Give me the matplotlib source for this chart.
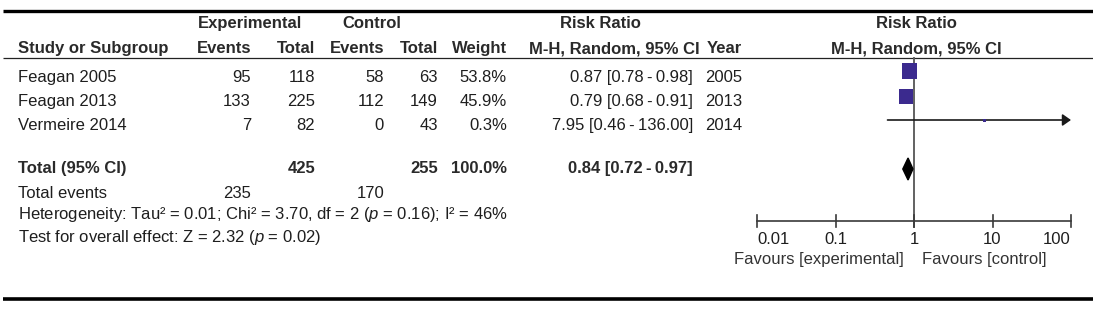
import numpy as np
import matplotlib
matplotlib.use("Agg")
import matplotlib.pyplot as plt

plt.rcParams['font.family'] = ['Liberation Sans', 'DejaVu Sans']
plt.rcParams['mathtext.fontset'] = 'custom'
plt.rcParams['mathtext.rm'] = 'Liberation Sans'
plt.rcParams['mathtext.it'] = 'Liberation Sans:italic'

# ---------------- data ----------------
studies = ["Feagan 2005", "Feagan 2013", "Vermeire 2014"]
exp_events = [95, 133, 7]
exp_total = [118, 225, 82]
ctrl_events = [58, 112, 0]
ctrl_total = [63, 149, 43]
weights = [53.8, 45.9, 0.3]
rr = [0.87, 0.79, 7.95]
ci_lo = [0.78, 0.68, 0.46]
ci_hi = [0.98, 0.91, 136.00]
years = [2005, 2013, 2014]

total_exp = 425
total_ctrl = 255
total_weight = 100.0
total_rr = 0.84
total_lo = 0.72
total_hi = 0.97
total_events_exp = 235
total_events_ctrl = 170
het_text = "Heterogeneity: Tau² = 0.01; Chi² = 3.70, df = 2 ($p$ = 0.16); I² = 46%"
overall_text = "Test for overall effect: Z = 2.32 ($p$ = 0.02)"
tick_vals = [0.01, 0.1, 1, 10, 100]
tick_labels = ["0.01", "0.1", "1", "10", "100"]

# ---------------- layout ----------------
W, H = 1093, 310
fig = plt.figure(figsize=(W / 100, H / 100), dpi=100)
ax = fig.add_axes([0, 0, 1, 1])
ax.set_xlim(0, W)
ax.set_ylim(H, 0)
ax.axis('off')

FS = 12
TC = '#1e1e1e'
HC = '#2a2a2a'

def t(x, y, s, ha='left', bold=False, color=None, **kw):
    ax.text(x, y, s, ha=ha, va='baseline', fontsize=FS,
            fontweight='bold' if bold else 'normal',
            color=color if color else (HC if bold else TC), **kw)

# rules
ax.plot([3, W], [11, 11], color='black', lw=2.4, solid_capstyle='butt')
ax.plot([3, W], [57.5, 57.5], color='#222222', lw=0.9, solid_capstyle='butt')
ax.plot([3, W], [298.5, 298.5], color='black', lw=2.6, solid_capstyle='butt')

# headers
t(250, 28, "Experimental", ha='center', bold=True)
t(372, 28, "Control", ha='center', bold=True)
t(600, 28, "Risk Ratio", ha='center', bold=True)
t(916, 28, "Risk Ratio", ha='center', bold=True)
t(18, 53, "Study or Subgroup", bold=True)
t(251, 53, "Events", ha='right', bold=True)
t(315, 53, "Total", ha='right', bold=True)
t(384, 53, "Events", ha='right', bold=True)
t(438, 53, "Total", ha='right', bold=True)
t(507, 53, "Weight", ha='right', bold=True)
t(700, 53, "M-H, Random, 95% CI", ha='right', bold=True)
t(742, 53, "Year", ha='right', bold=True)
t(916, 53, "M-H, Random, 95% CI", ha='center', bold=True)

row_base = [82, 106, 130]
for i, name in enumerate(studies):
    y = row_base[i]
    t(18, y, name)
    t(251, y, f"{exp_events[i]}", ha='right')
    t(315, y, f"{exp_total[i]}", ha='right')
    t(384, y, f"{ctrl_events[i]}", ha='right')
    t(438, y, f"{ctrl_total[i]}", ha='right')
    t(507, y, f"{weights[i]:.1f}%", ha='right')
    t(693, y, f"{rr[i]:.2f} [{ci_lo[i]:.2f}\u2009-\u2009{ci_hi[i]:.2f}]", ha='right')
    t(742, y, f"{years[i]}", ha='right')

yt = 173
t(18, yt, "Total (95% CI)", bold=True)
t(315, yt, f"{total_exp}", ha='right', bold=True)
t(438, yt, f"{total_ctrl}", ha='right', bold=True)
t(507, yt, f"{total_weight:.1f}%", ha='right', bold=True)
t(693, yt, f"{total_rr:.2f} [{total_lo:.2f}\u2009-\u2009{total_hi:.2f}]", ha='right', bold=True)
t(18, 198, "Total events")
t(251, 198, f"{total_events_exp}", ha='right')
t(384, 198, f"{total_events_ctrl}", ha='right')
t(18, 219, het_text)
t(18, 242, overall_text)

# favours labels (pixel positions)
t(819, 264, "Favours [experimental]", ha='center', color='#333333')
t(984, 264, "Favours [control]", ha='center', color='#333333')

# ---------------- forest ----------------
x0, x1 = 757, 1071
fx = fig.add_axes([x0 / W, 0, (x1 - x0) / W, 1])
fx.set_xscale('log')
fx.set_xlim(0.01, 100)
fx.set_ylim(H, 0)
fx.axis('off')

LC = '#3a3a3a'
SQ = '#3b2a8e'
axis_y = 220.5
# vertical line of no effect
fx.plot([1, 1], [58, 227], color='#555555', lw=1.3, clip_on=False)
# x axis
fx.plot([0.01, 100], [axis_y, axis_y], color=LC, lw=1.2, clip_on=False)
for k, (v, lab) in enumerate(zip(tick_vals, tick_labels)):
    fx.plot([v, v], [axis_y - 6, axis_y + 6], color=LC, lw=1.2, clip_on=False)
    ha = 'left' if k == 0 else ('right' if k == len(tick_vals) - 1 else 'center')
    fx.text(v, 244, lab, ha=ha, va='baseline', fontsize=FS, color=TC)

mark_y = [71, 96.5, 120]
for i in range(len(studies)):
    y = mark_y[i]
    hi = min(ci_hi[i], 100)
    if ci_hi[i] > 100:
        fx.annotate('', xy=(100, y), xytext=(ci_lo[i], y),
                    arrowprops=dict(arrowstyle='-|>,head_length=0.5,head_width=0.35',
                                    lw=1.2, color='#1a1a1a', shrinkA=0, shrinkB=0),
                    annotation_clip=False)
    else:
        fx.plot([ci_lo[i], hi], [y, y], color='#1a1a1a', lw=1.2, clip_on=False)
    side = max(15.5 * np.sqrt(weights[i] / 53.8), 3.0)
    fx.scatter([rr[i]], [y], marker='s', s=(side * 0.72) ** 2, color=SQ,
               edgecolors='none', zorder=5, clip_on=False)

yd = 169
fx.fill([total_lo, total_rr, total_hi, total_rr], [yd, yd - 11, yd, yd + 11],
        color='black', zorder=5, clip_on=False)

fig.savefig("out.png", dpi=100)
